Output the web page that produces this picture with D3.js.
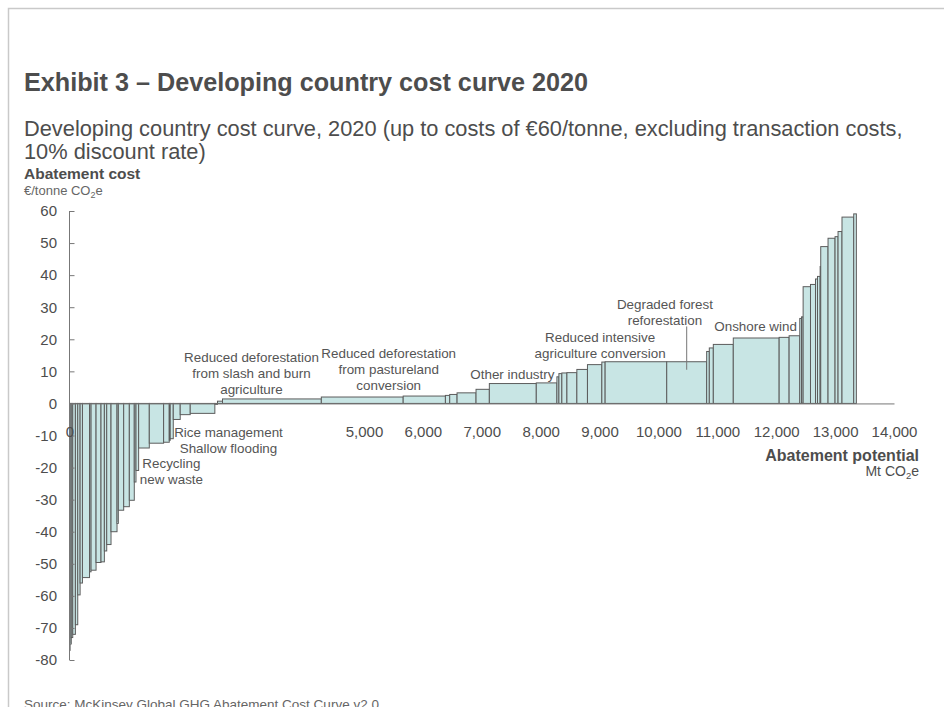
<!DOCTYPE html>
<html>
<head>
<meta charset="utf-8">
<script src="https://cdn.jsdelivr.net/npm/d3@7/dist/d3.min.js"></script>
<style>
  html, body { margin: 0; padding: 0; background: #fff; }
  svg { display: block; font-family: "Liberation Sans", Arial, Helvetica, sans-serif; }
</style>
</head>
<body>
<svg id="chart" width="944" height="707"></svg>
<script>
// Abatement levers, in order of rising cost: potential (Mt CO2e) and cost (€/t CO2e)
const potential = [
  10, 20, 25, 45, 40, 40, 40, 120, 26, 85, 84, 57, 40, 73, 102, 22, 91, 96, 84, 29,
  45, 181, 243, 96, 16, 52, 118, 170, 418, 45, 85, 1678, 1390, 717, 73, 125, 322, 226,
  797, 350, 34, 50, 86, 169, 180, 244, 56, 1046, 678, 45, 68, 339, 779, 169, 181, 30,
  27, 125, 85, 34, 45, 10, 124, 119, 51, 67, 199, 45
];
const cost = [
  -77, -75, -73, -72, -69, -59.7, -56, -54.3, -52.5, -52, -49.6, -49.4, -46, -44, -40,
  -37.4, -33.3, -32.2, -30.2, -24.5, -20.9, -13.9, -12.4, -12.1, -11.5, -11, -5.0, -3.5,
  -3.1, -0.3, 0.7, 1.4, 2.0, 2.3, 2.5, 2.8, 3.3, 4.4, 6.2, 6.4, 8.3, 9.3, 9.5, 9.6, 10.6,
  12.1, 12.9, 13.0, 13.0, 16.2, 17.3, 18.4, 20.4, 20.6, 21.1, 26.5, 27, 36.4, 37.1, 38.8,
  39.6, 42.7, 48.9, 51.5, 52, 53.6, 58.1, 59.1
];

const yTicks = [60, 50, 40, 30, 20, 10, 0, -10, -20, -30, -40, -50, -60, -70, -80];
const xTicks = [0, 5000, 6000, 7000, 8000, 9000, 10000, 11000, 12000, 13000, 14000];

// Lever names, anchored on the potential / cost plane
const leverNames = [
  { lines: ["Rice management", "Shallow flooding"], mt: 2700, c: -10.4 },
  { lines: ["Recycling", "new waste"], mt: 1730, c: -20.0 },
  { lines: ["Reduced deforestation", "from slash and burn", "agriculture"], mt: 3090, c: 13.0 },
  { lines: ["Reduced deforestation", "from pastureland", "conversion"], mt: 5420, c: 14.2 },
  { lines: ["Other industry"], mt: 7520, c: 7.7 },
  { lines: ["Reduced intensive", "agriculture conversion"], mt: 9010, c: 19.2 },
  { lines: ["Degraded forest", "reforestation"], mt: 10110, c: 29.4, leader: [10480, 24, 10.5] },
  { lines: ["Onshore wind"], mt: 11650, c: 22.5 }
];

const svg = d3.select("#chart");

const x = d3.scaleLinear().domain([0, 14000]).range([69.5, 894]);
const y = d3.scaleLinear().domain([-80, 60]).range([660, 211]);

// Frame
svg.append("path")
  .attr("d", "M8.5,707 V8.5 H944")
  .attr("fill", "none").attr("stroke", "#c9c9c9").attr("stroke-width", 1.5);

// Headings
svg.append("text").attr("x", 24).attr("y", 91)
  .attr("font-size", 25.2).attr("font-weight", "bold").attr("fill", "#4d4d4d")
  .text("Exhibit 3 \u2013 Developing country cost curve 2020");
const sub = svg.append("text").attr("font-size", 21.8).attr("fill", "#4d4d4d");
sub.append("tspan").attr("x", 24).attr("y", 136)
  .text("Developing country cost curve, 2020 (up to costs of \u20ac60/tonne, excluding transaction costs,");
sub.append("tspan").attr("x", 24).attr("y", 159).text("10% discount rate)");

// Y axis title
svg.append("text").attr("x", 24).attr("y", 179)
  .attr("font-size", 15.5).attr("font-weight", "bold").attr("fill", "#4d4d4d")
  .text("Abatement cost");
const yUnit = svg.append("text").attr("x", 24).attr("y", 195)
  .attr("font-size", 13).attr("fill", "#666");
yUnit.append("tspan").text("\u20ac/tonne CO");
yUnit.append("tspan").attr("font-size", 9).attr("dy", 3).text("2");
yUnit.append("tspan").attr("dy", -3).text("e");

// Bars: width = potential, height = cost
let acc = 0;
const bars = potential.map((w, i) => {
  const b = { x0: acc, x1: acc + w, c: cost[i] };
  acc += w;
  return b;
});

svg.append("g").selectAll("rect").data(bars).join("rect")
  .attr("x", d => x(d.x0))
  .attr("width", d => Math.max(0.5, x(d.x1) - x(d.x0)))
  .attr("y", d => Math.min(y(d.c), y(0)))
  .attr("height", d => Math.abs(y(d.c) - y(0)))
  .attr("fill", "#c8e5e4")
  .attr("stroke", "#5c5c5c")
  .attr("stroke-width", 1);

// Y axis with inward ticks
const yAxis = d3.axisRight(y).tickValues(yTicks).tickSize(5).tickFormat("");
const gy = svg.append("g").attr("transform", `translate(${x(0)},0)`).call(yAxis);
gy.select(".domain").remove();
gy.selectAll(".tick line").attr("stroke", "#777");
gy.append("line").attr("x1", 0).attr("x2", 0).attr("y1", y(60)).attr("y2", y(-80))
  .attr("stroke", "#777");
svg.append("g").selectAll("text").data(yTicks).join("text")
  .attr("x", 57).attr("y", d => y(d) + 5.3)
  .attr("text-anchor", "end").attr("font-size", 15).attr("fill", "#4d4d4d")
  .text(d => d);

// X axis along zero cost
const xAxis = d3.axisBottom(x).tickValues(xTicks).tickSize(0)
  .tickFormat(d3.format(","));
const gx = svg.append("g").attr("transform", `translate(0,${y(0)})`).call(xAxis);
gx.select(".domain").attr("stroke", "#777");
gx.selectAll(".tick text").attr("font-size", 15).attr("fill", "#4d4d4d")
  .attr("font-family", "Liberation Sans, Arial, sans-serif").attr("dy", 0).attr("y", 34);

// X axis title
svg.append("text").attr("x", 919).attr("y", 461).attr("text-anchor", "end")
  .attr("font-size", 16).attr("font-weight", "bold").attr("fill", "#4d4d4d")
  .text("Abatement potential");
const xUnit = svg.append("text").attr("x", 919).attr("y", 476).attr("text-anchor", "end")
  .attr("font-size", 14).attr("fill", "#4d4d4d");
xUnit.append("tspan").text("Mt CO");
xUnit.append("tspan").attr("font-size", 9.5).attr("dy", 3).text("2");
xUnit.append("tspan").attr("dy", -3).text("e");

// Lever names and leader line
const gc = svg.append("g").attr("font-size", 13.4).attr("fill", "#555").attr("text-anchor", "middle");
leverNames.forEach(c => {
  c.lines.forEach((t, i) => {
    gc.append("text").attr("x", x(c.mt)).attr("y", y(c.c) + i * 16).text(t);
  });
  if (c.leader) {
    svg.append("line")
      .attr("x1", x(c.leader[0])).attr("y1", y(c.leader[1]))
      .attr("x2", x(c.leader[0])).attr("y2", y(c.leader[2]))
      .attr("stroke", "#777").attr("stroke-width", 1);
  }
});

// Source note
svg.append("text").attr("x", 24).attr("y", 709)
  .attr("font-size", 13.5).attr("fill", "#666")
  .text("Source:  McKinsey Global GHG Abatement Cost Curve v2.0");
</script>
</body>
</html>
